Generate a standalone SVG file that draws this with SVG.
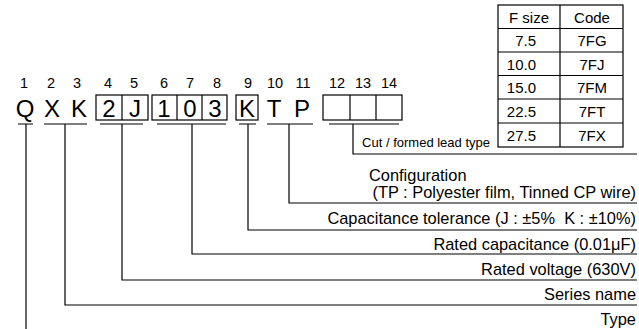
<svg xmlns="http://www.w3.org/2000/svg" width="639" height="329" viewBox="0 0 639 329">
<style>
text{font-family:"Liberation Sans",Arial,sans-serif;fill:#000}
.num{font-size:14.5px;text-anchor:middle}
.big{font-size:24px;text-anchor:middle}
.lbl{font-size:16.4px;text-anchor:end}
.tbl{font-size:15px}
.c{text-anchor:middle}
.r{text-anchor:end}
.ln{stroke:#000;stroke-width:1.2;fill:none}
.box{stroke:#000;stroke-width:1.2;fill:none}
</style>
<rect width="639" height="329" fill="#fff"/>
<g id="table">
<rect class="box" x="498" y="5" width="125" height="142"/>
<line class="ln" x1="560" y1="5" x2="560" y2="147"/>
<line class="ln" x1="498" y1="28.5" x2="623" y2="28.5"/>
<line class="ln" x1="498" y1="52" x2="623" y2="52"/>
<line class="ln" x1="498" y1="75.5" x2="623" y2="75.5"/>
<line class="ln" x1="498" y1="99" x2="623" y2="99"/>
<line class="ln" x1="498" y1="123" x2="623" y2="123"/>
<text class="tbl c" x="529" y="22.5">F size</text>
<text class="tbl c" x="592" y="22.5">Code</text>
<text class="tbl r" x="536" y="46">7.5</text>
<text class="tbl c" x="592" y="46">7FG</text>
<text class="tbl r" x="536" y="69.5">10.0</text>
<text class="tbl c" x="592" y="69.5">7FJ</text>
<text class="tbl r" x="536" y="93">15.0</text>
<text class="tbl c" x="592" y="93">7FM</text>
<text class="tbl r" x="536" y="116.5">22.5</text>
<text class="tbl c" x="592" y="116.5">7FT</text>
<text class="tbl r" x="536" y="140.5">27.5</text>
<text class="tbl c" x="592" y="140.5">7FX</text>
</g>
<g id="positions">
<text class="num" x="24" y="87.5">1</text>
<text class="num" x="51" y="87.5">2</text>
<text class="num" x="77" y="87.5">3</text>
<text class="num" x="108" y="87.5">4</text>
<text class="num" x="134" y="87.5">5</text>
<text class="num" x="164" y="87.5">6</text>
<text class="num" x="190" y="87.5">7</text>
<text class="num" x="217" y="87.5">8</text>
<text class="num" x="248" y="87.5">9</text>
<text class="num" x="275" y="87.5">10</text>
<text class="num" x="303" y="87.5">11</text>
<text class="num" x="337" y="87.5">12</text>
<text class="num" x="363" y="87.5">13</text>
<text class="num" x="389" y="87.5">14</text>
</g>
<g id="code">
<rect class="box" x="96" y="95" width="52" height="25"/>
<line class="ln" x1="122" y1="95" x2="122" y2="120"/>
<rect class="box" x="152" y="95" width="75" height="25"/>
<line class="ln" x1="177" y1="95" x2="177" y2="120"/>
<line class="ln" x1="202" y1="95" x2="202" y2="120"/>
<rect class="box" x="236" y="95" width="22" height="25"/>
<rect class="box" x="323" y="95" width="79" height="25"/>
<line class="ln" x1="350" y1="95" x2="350" y2="120"/>
<line class="ln" x1="376" y1="95" x2="376" y2="120"/>
<text class="big" x="25" y="117">Q</text>
<text class="big" x="52" y="117">X</text>
<text class="big" x="79" y="117">K</text>
<text class="big" x="109" y="117">2</text>
<text class="big" x="135" y="117">J</text>
<text class="big" x="164" y="117">1</text>
<text class="big" x="190" y="117">0</text>
<text class="big" x="215" y="117">3</text>
<text class="big" x="247" y="117">K</text>
<text class="big" x="274" y="117">T</text>
<text class="big" x="302" y="117">P</text>
</g>
<g id="labels">
<text class="lbl" x="490" y="147" style="font-size:13px">Cut / formed lead type</text>
<text class="lbl" x="369" y="181" style="text-anchor:start">Configuration</text>
<text class="lbl" x="636" y="197.5">(TP : Polyester film, Tinned CP wire)</text>
<text class="lbl" x="636" y="224">Capacitance tolerance (J : ±5%&#160; K : ±10%)</text>
<text class="lbl" x="636" y="249.5">Rated capacitance (0.01μF)</text>
<text class="lbl" x="636" y="275">Rated voltage (630V)</text>
<text class="lbl" x="636" y="300">Series name</text>
<text class="lbl" x="636" y="325">Type</text>
</g>
<g id="connectors">
<path class="ln" d="M18 124H33M26 124V329"/>
<path class="ln" d="M44 124H87M65 124V305H637"/>
<path class="ln" d="M100 124H143M122 124V280H637"/>
<path class="ln" d="M157 124H226M192 124V254H637"/>
<path class="ln" d="M239 124H256M248 124V230H637"/>
<path class="ln" d="M267 124H313M289 124V203H637"/>
<path class="ln" d="M329 124H399M353 124V154H637"/>
</g>
</svg>
